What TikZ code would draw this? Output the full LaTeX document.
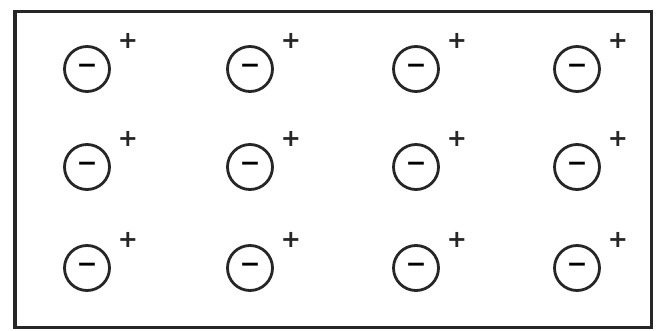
\documentclass[tikz,border=0pt]{standalone}
\usepackage{fontspec}
\setmainfont{DejaVu Sans}
\begin{document}
\begin{tikzpicture}[x=1pt,y=-1pt,
  ion/.style={circle,draw=black!85,line width=2.8pt,minimum size=45pt,inner sep=0pt,font=\bfseries\fontsize{25}{25}\selectfont},
  charge/.style={inner sep=0pt,font=\bfseries\fontsize{24}{24}\selectfont,text=black!85}]
\useasboundingbox (0,0) rectangle (658,331);
\fill[white] (0,0) rectangle (658,331);
\draw[line width=3pt,draw=black!85] (15,12) rectangle (651,327);
\draw[line width=4pt,draw=black!85] (15,10.5) -- (15,328.5);
\foreach \c/\x in {1/87,2/250,3/416,4/577}{
  \foreach \r/\y in {1/69,2/167,3/268}{
    \node[ion] (n\c\r) at (\x,\y) {−};
    \node[charge] (p\c\r) at (\x+41,\y-28) {+};
  }
}
\end{tikzpicture}
\end{document}
